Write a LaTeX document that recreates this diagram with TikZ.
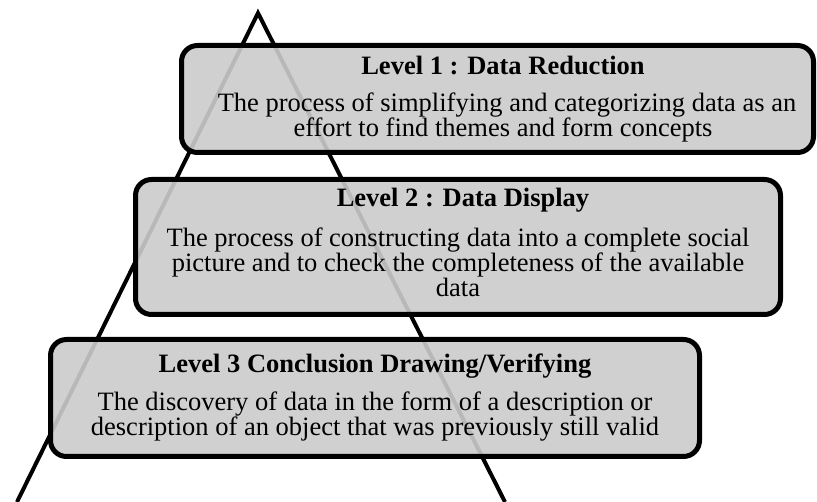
\documentclass[tikz,border=0pt]{standalone}
\usepackage{fontspec}
\setmainfont{Liberation Serif}
\definecolor{boxfill}{RGB}{203,203,203}
\begin{document}
\begin{tikzpicture}[x=1pt,y=-1pt,
  levelbox/.style={draw=black, line width=5pt, rounded corners=16pt, fill=boxfill, fill opacity=0.91},
  ttl/.style={anchor=base, inner sep=0pt, font=\fontsize{26.5}{25}\selectfont\bfseries},
  txt/.style={anchor=base, inner sep=0pt, font=\fontsize{26.5}{25}\selectfont}]
\useasboundingbox (0,0) rectangle (817,502);
\coordinate (apex) at (258,13);
\coordinate (bl) at (17,502);
\coordinate (br) at (505,502);
\draw[line width=4pt, line join=miter] (bl) -- (apex) -- (br);
% boxes
\draw[levelbox] (181.5,45.5) rectangle (813.5,152.5);
\draw[levelbox] (135.5,179.5) rectangle (780.5,314.5);
\draw[levelbox] (50.5,339.5) rectangle (699.5,456.5);
% texts
\node[ttl] (t1) at (503,75) {Level 1 : Data Reduction};
\node[txt] (b1a) at (507,112) {The process of simplifying and categorizing data as an};
\node[txt] (b1b) at (503,137) {effort to find themes and form concepts};
\node[ttl] (t2) at (463,207) {Level 2 : Data Display};
\node[txt] (b2a) at (458,247) {The process of constructing data into a complete social};
\node[txt] (b2b) at (458,272) {picture and to check the completeness of the available};
\node[txt] (b2c) at (458,297) {data};
\node[ttl] (t3) at (375,373) {Level 3 Conclusion Drawing/Verifying};
\node[txt] (b3a) at (375,411) {The discovery of data in the form of a description or};
\node[txt] (b3b) at (375,436) {description of an object that was previously still valid};
\end{tikzpicture}
\end{document}
